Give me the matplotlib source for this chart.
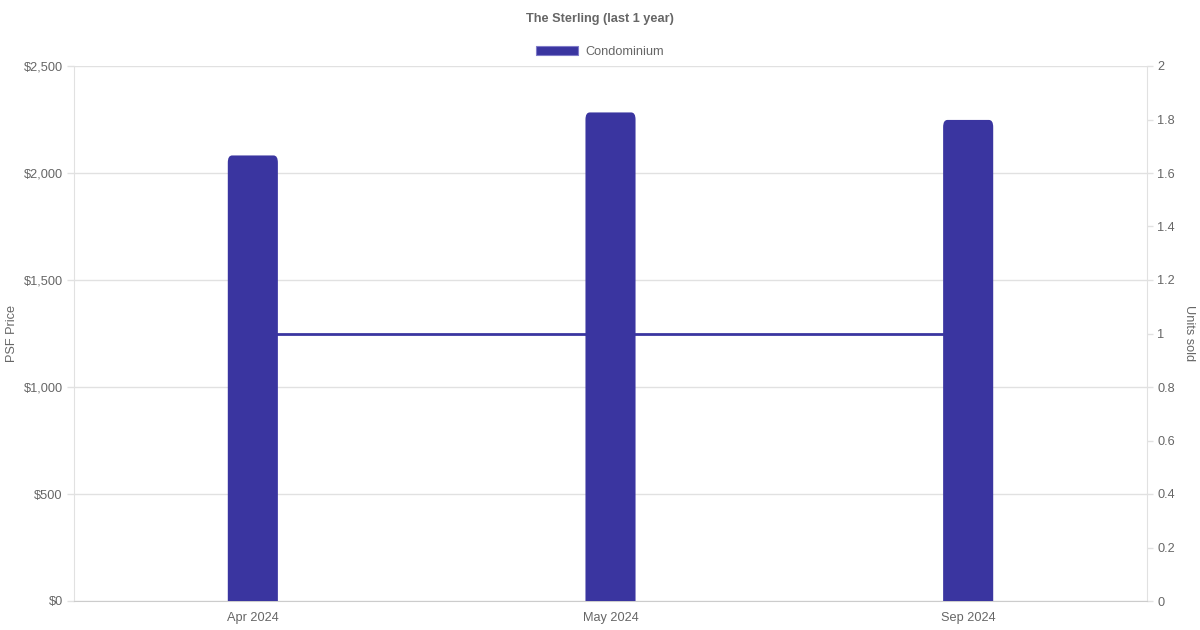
import numpy as np
import matplotlib
matplotlib.use('Agg')
import matplotlib.pyplot as plt
from matplotlib.patches import FancyBboxPatch, Patch
from matplotlib.ticker import FuncFormatter

# Data
months = ['Apr 2024', 'May 2024', 'Sep 2024']
psf_price = [2082, 2283, 2248]
units_sold = [1, 1, 1]

bar_color = '#3A35A0'
text_color = '#666666'
grid_color = '#E1E1E1'

plt.rcParams['font.family'] = ['Liberation Sans', 'DejaVu Sans']

fig = plt.figure(figsize=(12, 6.3), dpi=100)
ax = fig.add_axes([74 / 1200, 29 / 630, 1073 / 1200, 535 / 630])
ax2 = ax.twinx()

x = np.arange(len(months))
bar_w = 0.14

# bars with slightly rounded tops (bottom rounding is hidden below zero)
for xi, val in zip(x, psf_price):
    ax.add_patch(FancyBboxPatch((xi - bar_w / 2, -100), bar_w, val + 100,
                                boxstyle='round,pad=0,rounding_size=0.012',
                                mutation_aspect=2500 / 535 * 1073 / 3 / 0.6,
                                facecolor=bar_color, edgecolor='none', zorder=3,
                                clip_on=True))

ax.set_xlim(-0.5, len(months) - 0.5)
ax.set_ylim(0, 2500)
ax.set_yticks(np.arange(0, 2501, 500))
ax.yaxis.set_major_formatter(FuncFormatter(lambda v, p: f'${v:,.0f}'))
ax.set_xticks(x)
ax.set_xticklabels(months)
ax.grid(axis='y', color=grid_color, linewidth=1, zorder=0)
ax.set_axisbelow(True)

# units sold line on the right axis
ax2.plot(x, units_sold, color=bar_color, linewidth=2.0, zorder=2)
ax2.set_ylim(0, 2)
ax2.set_yticks(np.arange(0, 2.01, 0.2))
ax2.yaxis.set_major_formatter(FuncFormatter(lambda v, p: f'{v:g}'))
ax.set_zorder(ax2.get_zorder() + 1)
ax.patch.set_visible(False)

for a in (ax, ax2):
    for s in a.spines.values():
        s.set_visible(False)
    a.tick_params(colors=text_color, labelsize=9.2, width=1)
    a.tick_params(axis='y', color=grid_color)
ax.tick_params(axis='y', length=5, pad=3)
ax2.tick_params(axis='y', length=4, pad=3.5)
ax.tick_params(axis='x', length=0, pad=8)
ax2.tick_params(axis='x', length=0)
ax.spines['left'].set_visible(True)
ax.spines['left'].set_color(grid_color)
ax.spines['bottom'].set_visible(True)
ax.spines['bottom'].set_color('#CCCCCC')
ax2.spines['right'].set_visible(True)
ax2.spines['right'].set_color(grid_color)

# axis titles
fig.text(12 / 1200, 1 - 333 / 630, 'PSF Price', rotation=90, ha='center', va='center',
         fontsize=9.2, color=text_color)
fig.text(1189 / 1200, 1 - 333 / 630, 'Units sold', rotation=-90, ha='center', va='center',
         fontsize=9.2, color=text_color)

fig.text(0.5, 1 - 19 / 630, 'The Sterling (last 1 year)', ha='center', va='center',
         fontsize=9.2, fontweight='bold', color=text_color)
leg = fig.legend(handles=[Patch(facecolor=bar_color, edgecolor='#7F7BC8', linewidth=0.8)],
                 labels=['Condominium'], loc='center', bbox_to_anchor=(0.5, 1 - 52 / 630),
                 frameon=False, fontsize=9.2, handlelength=3.3, handleheight=0.75,
                 handletextpad=0.55, labelcolor=text_color)

fig.savefig('out.png', dpi=100)
